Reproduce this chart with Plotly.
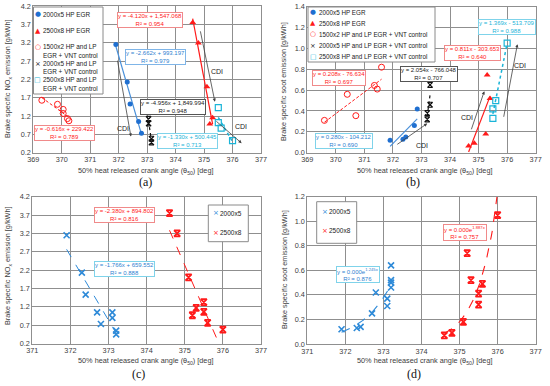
import numpy as np
import plotly.graph_objects as go

# ---------------- DATA ----------------
# Panel (a): brake specific NOx [g/kWh] vs theta50 [deg]
a_hp2000_x = [371.9, 372.3, 372.4, 372.7, 372.8]
a_hp2000_y = [3.15, 2.13, 1.53, 1.05, 0.73]
a_hp2500_x = [374.6, 374.8, 375.1, 375.3, 375.2]
a_hp2500_y = [3.75, 3.19, 2.00, 1.15, 0.98]
a_lp1500_x = [369.3, 369.85, 370.05, 370.05, 370.2, 370.25]
a_lp1500_y = [1.63, 1.52, 1.38, 1.27, 1.13, 1.07]
a_lp2000_x = [373.05, 373.05, 373.15, 373.15]
a_lp2000_y = [1.12, 1.00, 0.58, 0.48]
a_lp2500_x = [375.5, 375.5, 375.6, 376.0]
a_lp2500_y = [1.43, 1.02, 0.87, 0.53]

# Panel (b): brake specific soot [g/kWh] vs theta50 [deg]
b_hp2000_x = [371.9, 372.35, 372.45, 372.75, 372.85]
b_hp2000_y = [0.12, 0.13, 0.15, 0.26, 0.42]
b_hp2500_x = [374.65, 374.85, 375.25, 375.3, 375.4]
b_hp2500_y = [0.065, 0.09, 0.18, 0.745, 0.52]
b_lp1500_x = [369.6, 370.4, 370.7, 371.35, 371.45, 371.6]
b_lp1500_y = [0.31, 0.56, 0.355, 0.645, 0.61, 0.82]
b_lp2000_x = [373.2, 373.2, 373.3, 373.3]
b_lp2000_y = [0.32, 0.38, 0.46, 0.65]
b_lp2500_x = [375.5, 375.5, 375.6, 376.0]
b_lp2500_y = [0.33, 0.42, 0.50, 1.05]

# Panel (c): NOx, all 2000x5 and 2500x8 points
c_2000_x = [371.9, 372.3, 372.4, 372.7, 372.8, 373.1, 373.1, 373.2, 373.2]
c_2000_y = [3.15, 2.13, 1.53, 1.05, 0.73, 1.05, 0.90, 0.55, 0.45]
c_2500_x = [374.6, 374.8, 375.1, 375.2, 375.3, 375.5, 375.5, 375.6, 376.0]
c_2500_y = [3.75, 3.20, 2.00, 0.97, 1.17, 1.33, 1.06, 0.76, 0.58]

# Panel (d): soot, all 2000x5 and 2500x8 points
d_2000_x = [371.9, 372.3, 372.4, 372.7, 372.8, 373.1, 373.1, 373.2, 373.2, 373.2, 373.2]
d_2000_y = [0.12, 0.13, 0.14, 0.25, 0.42, 0.37, 0.31, 0.64, 0.52, 0.50, 0.46]
d_2500_x = [374.6, 374.8, 375.1, 375.2, 375.3, 375.6, 375.5, 375.5, 376.0]
d_2500_y = [0.07, 0.09, 0.18, 0.74, 0.52, 0.49, 0.41, 0.32, 1.05]

# Trendline labels
a_eq = {"hp2500": ("y = -4.120x + 1,547.068", "0.954"), "hp2000": ("y = -2.662x + 993.197", "0.979"),
        "lp2000": ("y = -4.956x + 1,849.994", "0.948"), "lp1500": ("y = -0.616x + 229.422", "0.789"),
        "lp2500": ("y = -1.330x + 500.445", "0.713")}
b_eq = {"lp2500": ("y = 1.369x - 513.709", "0.988"), "hp2500": ("y = 0.811x - 303.653", "0.640"),
        "lp2000": ("y = 2.054x - 766.048", "0.707"), "lp1500": ("y = 0.208x - 76.634", "0.697"),
        "hp2000": ("y = 0.280x - 104.212", "0.690")}
c_eq = {"2500": ("y = -2.380x + 894.802", "0.816"), "2000": ("y = -1.766x + 659.552", "0.888")}
d_eq = {"2500": ("y = 0.000e<sup>1.887x</sup>", "0.757"), "2000": ("y = 0.000e<sup>1.245x</sup>", "0.876")}

# ---------------- STYLE ----------------
W, H = 550, 386
FONT = "Liberation Sans, Arial, sans-serif"
BLUE = "#1f6fd0"
LBLUE = "#2e8ad8"
RED = "#ff1a1a"
CYAN = "#1ab4d8"
BLACK = "#111111"
GRID = "#8f8f8f"


def px(x, y):
    return x / W, 1 - y / H


fig = go.Figure()

panels = {
    "a": dict(xa="x", ya="y", xpx=(33.3, 261), ypx=(6, 152.7), xr=[369, 377], yr=[0.2, 4.2], dt=0.5, t0=0.2),
    "b": dict(xa="x2", ya="y2", xpx=(307.3, 535.7), ypx=(6.7, 152.7), xr=[369, 377], yr=[0, 1.4], dt=0.2, t0=0),
    "c": dict(xa="x3", ya="y3", xpx=(32.3, 261), ypx=(196.7, 343.5), xr=[371, 377], yr=[0.2, 4.2], dt=0.5, t0=0.2),
    "d": dict(xa="x4", ya="y4", xpx=(307.3, 535.7), ypx=(196.7, 344), xr=[371, 377], yr=[0, 1.2], dt=0.2, t0=0),
}
NOX = "Brake specific NO<sub>x</sub> emission [g/kWh]"
SOOT = "Brake specific soot emission [g/kWh]"
XT = "50% heat released crank angle (θ<sub>50</sub>) [deg]"

for k, p in panels.items():
    i = "" if p["xa"] == "x" else p["xa"][1:]
    x0, _ = px(p["xpx"][0], 0)
    x1, _ = px(p["xpx"][1], 0)
    _, y1 = px(0, p["ypx"][0])
    _, y0 = px(0, p["ypx"][1])
    common = dict(showgrid=True, gridcolor=GRID, gridwidth=1, showline=True, linecolor=GRID, linewidth=1,
                  mirror=True, zeroline=False, ticks="", automargin=False,
                  tickfont=dict(size=7.3, color="#404040", family=FONT))
    fig.layout["xaxis" + i] = dict(common, domain=[x0, x1], range=p["xr"], dtick=1, anchor=p["ya"])
    fig.layout["yaxis" + i] = dict(common, domain=[y0, y1], range=p["yr"], dtick=p["dt"], tick0=p["t0"],
                                   tickformat=".1f", anchor=p["xa"])


def pts(x, y, p, color, symbol, size=6, lw=1.2, fill=None):
    fig.add_trace(go.Scatter(x=x, y=y, xaxis=p["xa"], yaxis=p["ya"], mode="markers", showlegend=False,
                             marker=dict(symbol=symbol, size=size, color=fill or color,
                                         line=dict(color=color, width=lw))))


def linfit(x, y, p, color, dash="solid", width=1.2):
    c = np.polyfit(x, y, 1)
    xs = np.array([min(x), max(x)])
    fig.add_trace(go.Scatter(x=xs, y=np.polyval(c, xs), xaxis=p["xa"], yaxis=p["ya"], mode="lines",
                             showlegend=False, line=dict(color=color, dash=dash, width=width)))


def expfit(x, y, p, color, width=1.1, extend=0.0):
    c = np.polyfit(x, np.log(y), 1)
    xs = np.linspace(min(x), max(x) + extend, 60)
    fig.add_trace(go.Scatter(x=xs, y=np.exp(np.polyval(c, xs)), xaxis=p["xa"], yaxis=p["ya"], mode="lines",
                             showlegend=False, line=dict(color=color, dash="dash", width=width)))


pa, pb, pc, pd = panels["a"], panels["b"], panels["c"], panels["d"]

# panel (a)
linfit(a_hp2000_x, a_hp2000_y, pa, "#4a90d9")
linfit(a_hp2500_x, a_hp2500_y, pa, RED)
linfit(a_lp1500_x, a_lp1500_y, pa, RED, dash="3px,2px", width=1)
linfit(a_lp2000_x, a_lp2000_y, pa, BLACK, dash="dot", width=1.2)
linfit(a_lp2500_x, a_lp2500_y, pa, CYAN, dash="dot", width=1.5)
pts(a_hp2000_x, a_hp2000_y, pa, BLUE, "circle", 5, 0)
pts(a_hp2500_x, a_hp2500_y, pa, RED, "triangle-up", 6, 0)
pts(a_lp1500_x, a_lp1500_y, pa, RED, "circle-open", 6, 1)
pts(a_lp2000_x, a_lp2000_y, pa, BLACK, "hourglass-open", 5, 1.2)
pts(a_lp2500_x, a_lp2500_y, pa, CYAN, "square-open", 6, 1.2)

# panel (b)
linfit(b_hp2000_x, b_hp2000_y, pb, "#4a90d9")
linfit(b_hp2500_x, b_hp2500_y, pb, RED)
linfit(b_lp1500_x, b_lp1500_y, pb, RED, dash="3px,2px", width=1)
linfit(b_lp2000_x, b_lp2000_y, pb, BLACK, dash="dot", width=1.2)
linfit(b_lp2500_x, b_lp2500_y, pb, CYAN, dash="dot", width=1.5)
pts(b_hp2000_x, b_hp2000_y, pb, BLUE, "circle", 5, 0)
pts(b_hp2500_x, b_hp2500_y, pb, RED, "triangle-up", 6, 0)
pts(b_lp1500_x, b_lp1500_y, pb, RED, "circle-open", 6, 1)
pts(b_lp2000_x, b_lp2000_y, pb, BLACK, "hourglass-open", 5, 1.2)
pts(b_lp2500_x, b_lp2500_y, pb, CYAN, "square-open", 6, 1.2)

# panel (c)
linfit(c_2000_x, c_2000_y, pc, LBLUE, dash="dash", width=1)
linfit(c_2500_x, c_2500_y, pc, RED, dash="dash", width=1)
pts(c_2000_x, c_2000_y, pc, LBLUE, "x-thin-open", 6, 1.6)
pts(c_2500_x, c_2500_y, pc, RED, "hourglass-open", 6, 1.8)

# panel (d)
expfit(d_2000_x, d_2000_y, pd, LBLUE)
expfit(d_2500_x, d_2500_y, pd, RED, extend=0.15)
pts(d_2000_x, d_2000_y, pd, LBLUE, "x-thin-open", 6, 1.6)
pts(d_2500_x, d_2500_y, pd, RED, "hourglass-open", 6, 1.8)

ann = []


def eqbox(p, x, y, eq, color, border):
    ann.append(dict(xref=p["xa"], yref=p["ya"], x=x, y=y, text=f"{eq[0]}<br>R² = {eq[1]}", showarrow=False,
                    xanchor="center", yanchor="middle",
                    font=dict(size=6, color=color, family=FONT), bgcolor="white", bordercolor=border,
                    borderwidth=1, borderpad=0, align="center"))


eqbox(pa, 373.1, 3.83, a_eq["hp2500"], RED, "#f08a8a")
eqbox(pa, 373.28, 2.8, a_eq["hp2000"], "#2f7fd0", "#7fb5e8")
eqbox(pa, 373.91, 1.45, a_eq["lp2000"], "#222222", "#555555")
eqbox(pa, 370.1, 0.75, a_eq["lp1500"], RED, "#f08a8a")
eqbox(pa, 374.42, 0.53, a_eq["lp2500"], CYAN, "#7fd3ea")

eqbox(pb, 375.98, 1.21, b_eq["lp2500"], CYAN, "#7fd3ea")
eqbox(pb, 374.79, 0.956, b_eq["hp2500"], RED, "#f08a8a")
eqbox(pb, 373.28, 0.755, b_eq["lp2000"], "#222222", "#555555")
eqbox(pb, 370.11, 0.72, b_eq["lp1500"], RED, "#f08a8a")
eqbox(pb, 370.29, 0.117, b_eq["hp2000"], "#2f7fd0", "#7fd3ea")

eqbox(pc, 373.43, 3.69, c_eq["2500"], RED, "#f08a8a")
eqbox(pc, 373.43, 2.22, c_eq["2000"], "#2f7fd0", "#7fd3ea")
eqbox(pd, 375.14, 0.908, d_eq["2500"], RED, "#f08a8a")
eqbox(pd, 372.34, 0.57, d_eq["2000"], "#2f7fd0", "#7fd3ea")


def cdi(p, tail, head, lab):
    ann.append(dict(xref=p["xa"], yref=p["ya"], axref=p["xa"], ayref=p["ya"], x=head[0], y=head[1],
                    ax=tail[0], ay=tail[1], text="", showarrow=True, arrowhead=2, arrowsize=0.8,
                    arrowwidth=0.8, arrowcolor="#404040"))
    ann.append(dict(xref=p["xa"], yref=p["ya"], x=lab[0], y=lab[1], text="CDI", showarrow=False,
                    xanchor="center", yanchor="middle",
                    font=dict(size=7, color="#222222", family=FONT)))


cdi(pa, (371.95, 2.75), (372.43, 0.64), (372.14, 0.87))
cdi(pa, (374.86, 3.55), (375.38, 1.59), (375.46, 2.41))
cdi(pa, (375.38, 1.09), (376.32, 0.46), (376.3, 0.91))
cdi(pb, (372.1, 0.07), (373.2, 0.28), (373.0, 0.07))
cdi(pb, (374.73, 0.21), (375.2, 0.59), (374.6, 0.34))
cdi(pb, (375.87, 0.33), (376.36, 1.04), (376.45, 0.84))

# legends drawn as boxes with symbol + label text
shapes = []


def legend(box, entries, mx, tx, fs):
    x0, y0 = px(box[0], box[1])
    x1, y1 = px(box[2], box[3])
    shapes.append(dict(type="rect", xref="paper", yref="paper", x0=x0, x1=x1, y0=y1, y1=y0,
                       line=dict(color="#8a8a8a", width=1), fillcolor="white", layer="above"))
    for sym, col, lines, ys in entries:
        xm, ym = px(mx, ys[0])
        ann.append(dict(xref="paper", yref="paper", x=xm, y=ym, text=f"<span style='color:{col}'>{sym}</span>",
                        showarrow=False, xanchor="center", yanchor="middle",
                        font=dict(size=fs + 0.5, color=col, family="DejaVu Sans")))
        for ln, yy in zip(lines, ys):
            xt, yt = px(tx, yy)
            ann.append(dict(xref="paper", yref="paper", x=xt, y=yt, text=ln, showarrow=False,
                            xanchor="left", yanchor="middle", font=dict(size=fs, color="#222222", family=FONT)))


legend((33.5, 7, 103, 94), [
    ("●", BLUE, ["2000x5 HP EGR"], [14]),
    ("▲", RED, ["2500x8 HP EGR"], [30.5]),
    ("○", RED, ["1500x2 HP and LP", "EGR + VNT control"], [47, 55.3]),
    ("×", BLACK, ["2000x5 HP and LP", "EGR + VNT control"], [63.5, 71.8]),
    ("□", CYAN, ["2500x8 HP and LP", "EGR + VNT control"], [80, 88.3]),
], 37.5, 40.5, 6.4)

legend((308, 7, 435, 62), [
    ("●", BLUE, ["2000x5 HP EGR"], [12.3]),
    ("▲", RED, ["2500x8 HP EGR"], [23.3]),
    ("○", RED, ["1500x2 HP and LP EGR + VNT control"], [34.3]),
    ("×", BLACK, ["2000x5 HP and LP EGR + VNT control"], [45.7]),
    ("□", CYAN, ["2500x8 HP and LP EGR + VNT control"], [56.7]),
], 313, 316.5, 6.3)

legend((208.3, 205, 248.3, 241.7), [
    ("×", LBLUE, ["2000x5"], [213.3]),
    ("×", RED, ["2500x8"], [232.7]),
], 215.5, 218, 6.5)

legend((316.7, 201.7, 356.7, 243.3), [
    ("×", LBLUE, ["2000x5"], [211.7]),
    ("×", RED, ["2500x8"], [230.7]),
], 324.5, 327, 6.5)

# axis titles
TF = dict(size=7.3, color="#404040", family=FONT)
for (x, y) in [(146, 170.5), (425, 170.5), (146, 361), (425, 361)]:
    xp, yp = px(x, y)
    ann.append(dict(xref="paper", yref="paper", x=xp, y=yp, text=XT, showarrow=False, font=TF,
                    xanchor="center", yanchor="middle"))
for (x, y, t) in [(8, 79, NOX), (284, 82, SOOT), (8, 266, NOX), (284, 270, SOOT)]:
    xp, yp = px(x, y)
    ann.append(dict(xref="paper", yref="paper", x=xp, y=yp, text=t, textangle=-90, showarrow=False, font=TF,
                    xanchor="center", yanchor="middle"))

for lab, (x, y) in {"(a)": (145, 182), "(b)": (413, 182), "(c)": (138, 374), "(d)": (414, 374)}.items():
    xp, yp = px(x, y)
    ann.append(dict(xref="paper", yref="paper", x=xp, y=yp, text=lab, showarrow=False,
                    xanchor="center", yanchor="middle",
                    font=dict(size=12, color="#111111", family="Liberation Serif, Times New Roman, serif")))

fig.update_layout(width=W, height=H, margin=dict(l=0, r=0, t=0, b=0), paper_bgcolor="white",
                  plot_bgcolor="white", showlegend=False, annotations=ann, shapes=shapes,
                  font=dict(family=FONT))
fig.write_html("out.html", config={"displayModeBar": False},
               post_script="document.body.style.margin='0';document.body.style.overflow='hidden';")
